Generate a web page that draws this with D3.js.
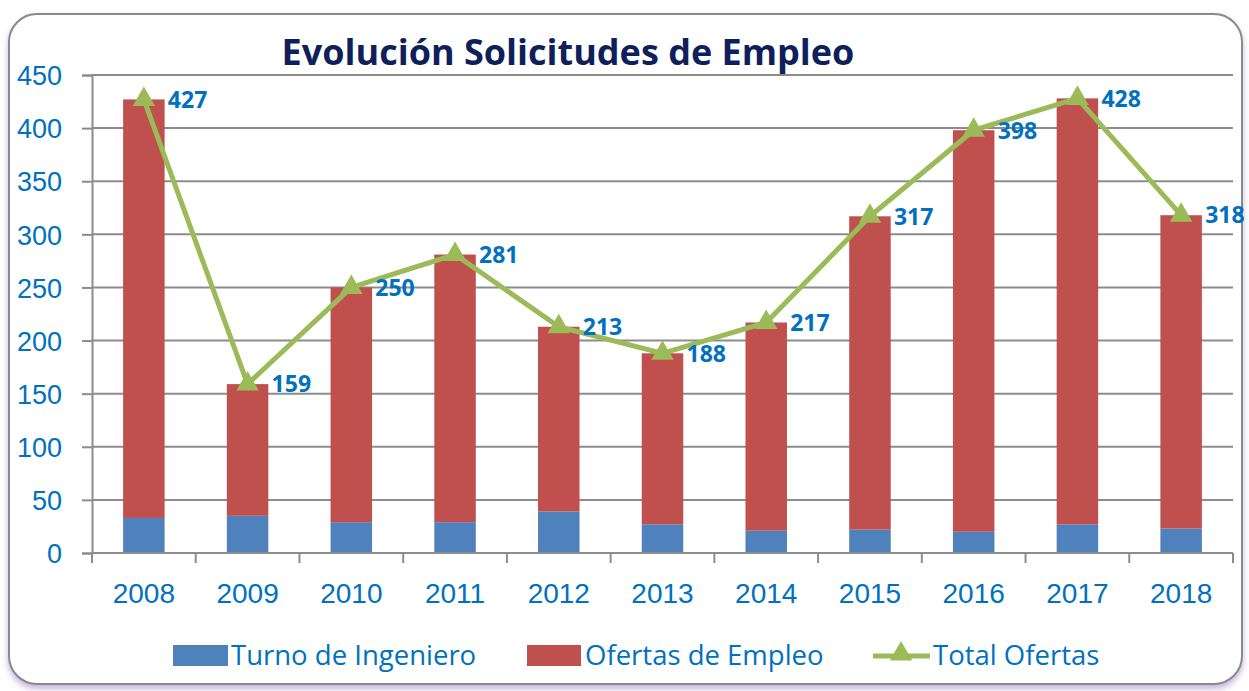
<!DOCTYPE html>
<html>
<head>
<meta charset="utf-8">
<script src="https://cdn.jsdelivr.net/npm/d3@7"></script>
<style>
  body { margin: 0; background: #fff; }
  svg { display: block; font-family: "Open Sans", "Noto Sans", sans-serif; }
</style>
</head>
<body>
<div id="chart"></div>
<script>
const years = ["2008", "2009", "2010", "2011", "2012", "2013", "2014", "2015", "2016", "2017", "2018"];
const turno = [33, 35, 29, 29, 39, 27, 21, 22, 20, 27, 23];
const ofertas = [394, 124, 221, 252, 174, 161, 196, 295, 378, 401, 295];
const total = [427, 159, 250, 281, 213, 188, 217, 317, 398, 428, 318];
const yTicks = [0, 50, 100, 150, 200, 250, 300, 350, 400, 450];

const W = 1249, H = 691;
const plotL = 92, plotR = 1233, plotT = 75, plotB = 553;

const svg = d3.select("#chart").append("svg")
  .attr("width", W).attr("height", H);

// soft shadow + frame
const defs = svg.append("defs");
const f = defs.append("filter").attr("id", "sh").attr("x", "-5%").attr("y", "-5%").attr("width", "110%").attr("height", "115%");
f.append("feDropShadow").attr("dx", 0).attr("dy", 4).attr("stdDeviation", 3).attr("flood-color", "#b9a3d6").attr("flood-opacity", 0.8);

svg.append("rect")
  .attr("x", 9).attr("y", 14).attr("width", 1233).attr("height", 670)
  .attr("rx", 28).attr("ry", 28)
  .attr("fill", "#fff").attr("stroke", "#8a8a8a").attr("stroke-width", 2)
  .attr("filter", "url(#sh)");

const x = d3.scaleBand()
  .domain(years)
  .range([plotL, plotR])
  .paddingInner(0.6)
  .paddingOuter(0.3);

const y = d3.scaleLinear().domain([0, 450]).range([plotB, plotT]);

// gridlines
svg.append("g").selectAll("line")
  .data(yTicks.filter(d => d > 0))
  .enter().append("line")
  .attr("x1", plotL).attr("x2", plotR)
  .attr("y1", d => y(d)).attr("y2", d => y(d))
  .attr("stroke", "#8c8c8c").attr("stroke-width", 2);

// stacked bars
const bw = x.bandwidth();
svg.append("g").selectAll("rect")
  .data(years)
  .enter().append("rect")
  .attr("x", d => x(d))
  .attr("width", bw)
  .attr("y", (d, i) => y(turno[i]))
  .attr("height", (d, i) => y(0) - y(turno[i]))
  .attr("fill", "#4f81bd");

svg.append("g").selectAll("rect")
  .data(years)
  .enter().append("rect")
  .attr("x", d => x(d))
  .attr("width", bw)
  .attr("y", (d, i) => y(turno[i] + ofertas[i]))
  .attr("height", (d, i) => y(turno[i]) - y(turno[i] + ofertas[i]))
  .attr("fill", "#c0504d");

// y axis
const yAxis = svg.append("g")
  .attr("transform", `translate(${plotL},0)`)
  .call(d3.axisLeft(y).tickValues(yTicks).tickSize(10).tickPadding(20));
yAxis.select(".domain").attr("stroke", "#8c8c8c").attr("stroke-width", 2);
yAxis.selectAll(".tick line").attr("stroke", "#8c8c8c").attr("stroke-width", 2);
yAxis.selectAll("text")
  .attr("fill", "#0070c0").style("font-size", "27px")
  .attr("x", -30).attr("dy", "0.36em");

// x axis
const xAxis = svg.append("g")
  .attr("transform", `translate(0,${plotB})`)
  .call(d3.axisBottom(x).tickSize(0).tickPadding(30));
xAxis.select(".domain").attr("stroke", "#8c8c8c").attr("stroke-width", 2).attr("d", `M${plotL},0H${plotR}`);
xAxis.selectAll("text").attr("fill", "#0070c0").style("font-size", "28px");
const step = x.step();
xAxis.selectAll(".sep")
  .data(d3.range(years.length + 1))
  .enter().append("line")
  .attr("x1", i => plotL + i * step).attr("x2", i => plotL + i * step)
  .attr("y1", 0).attr("y2", 10)
  .attr("stroke", "#8c8c8c").attr("stroke-width", 2);

// total line
const cx = d => x(d) + bw / 2;
const line = d3.line()
  .x((d, i) => cx(years[i]))
  .y(d => y(d));
svg.append("path")
  .datum(total)
  .attr("d", line)
  .attr("fill", "none")
  .attr("stroke", "#9bbb59")
  .attr("stroke-width", 5)
  .attr("stroke-linejoin", "round");

const tri = d3.symbol().type(d3.symbolTriangle).size(220);
svg.append("g").selectAll("path")
  .data(total)
  .enter().append("path")
  .attr("d", tri)
  .attr("transform", (d, i) => `translate(${cx(years[i])},${y(d)})`)
  .attr("fill", "#9bbb59");

// data labels
svg.append("g").selectAll("text")
  .data(total)
  .enter().append("text")
  .attr("x", (d, i) => cx(years[i]) + 24)
  .attr("y", d => y(d))
  .attr("dy", "0.36em")
  .attr("fill", "#0070c0")
  .style("font-size", "23px")
  .style("font-weight", "bold")
  .text(d => d);

// title
svg.append("text")
  .attr("x", 568).attr("y", 65)
  .attr("text-anchor", "middle")
  .attr("fill", "#0f1f5c")
  .style("font-size", "36px")
  .style("font-weight", "bold")
  .text("Evolución Solicitudes de Empleo");

// legend
const lg = svg.append("g").attr("transform", "translate(0,655)");
const lgFont = "27.5px";
lg.append("rect").attr("x", 173).attr("y", -10).attr("width", 55).attr("height", 21).attr("fill", "#4f81bd");
lg.append("text").attr("x", 231).attr("y", 0).attr("dy", "0.35em").attr("fill", "#0070c0").style("font-size", lgFont).text("Turno de Ingeniero");
lg.append("rect").attr("x", 527).attr("y", -10).attr("width", 54).attr("height", 21).attr("fill", "#c0504d");
lg.append("text").attr("x", 585).attr("y", 0).attr("dy", "0.35em").attr("fill", "#0070c0").style("font-size", lgFont).text("Ofertas de Empleo");
lg.append("line").attr("x1", 873).attr("x2", 930).attr("y1", 1).attr("y2", 1).attr("stroke", "#9bbb59").attr("stroke-width", 5);
lg.append("path").attr("d", tri).attr("transform", "translate(901,-1)").attr("fill", "#9bbb59");
lg.append("text").attr("x", 933).attr("y", 0).attr("dy", "0.35em").attr("fill", "#0070c0").style("font-size", lgFont).text("Total Ofertas");
</script>
</body>
</html>
